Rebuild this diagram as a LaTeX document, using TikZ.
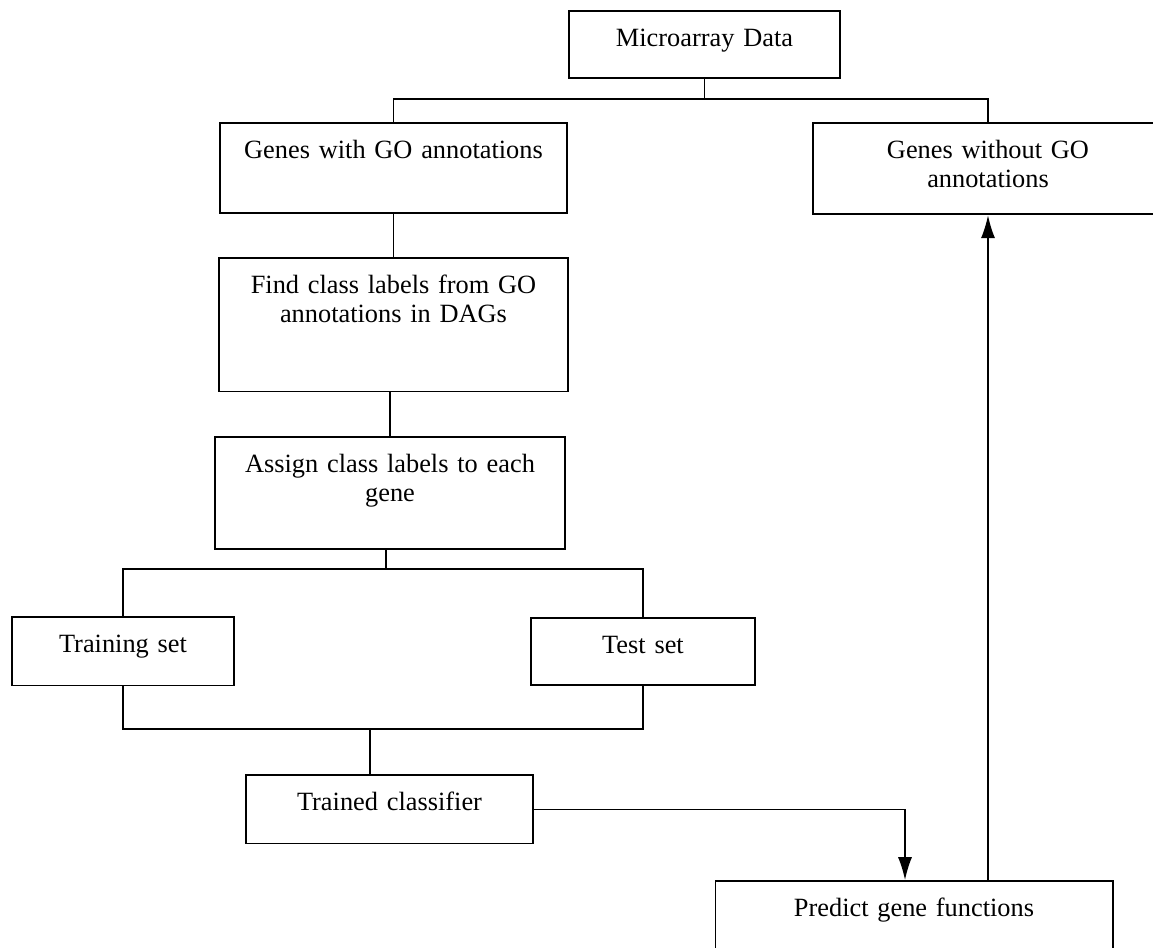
\documentclass[tikz,border=0pt]{standalone}
\usepackage{fontspec}
\setmainfont{Liberation Serif}
\usepackage{tikz}
\usetikzlibrary{arrows.meta,calc}

\tikzset{
  box/.style={draw, line width=1.1pt, anchor=north, align=center,
    inner xsep=4pt, inner ysep=9pt, text height=11pt,
    font=\fontsize{15}{17}\selectfont},
  link/.style={draw, line width=0.8pt},
  tip/.style={-{Latex[length=13pt,width=8pt]}}
}

\begin{document}
\begin{tikzpicture}[x=0.02cm, y=-0.02cm]
\fill[white] (0,0) rectangle (1153,947);
\useasboundingbox (0,0) rectangle (1153,947);

\node[box, text width=146pt, text depth=9pt] (micro) at (704.5,10) {Microarray Data};
\node[box, text width=190pt, text depth=22pt] (gwith) at (393.5,122) {Genes with GO annotations};
\node[box, text width=191pt, text depth=23pt] (gwithout) at (988,122) {Genes without GO\\annotations};
\node[box, text width=191pt, text depth=47pt] (find) at (393.5,257) {Find class labels from GO\\annotations in DAGs};
\node[box, text width=191pt, text depth=35pt] (assign) at (390,436) {Assign class labels to each\\gene};
\node[box, text width=118pt, text depth=10pt] (train) at (123,616) {Training set};
\node[box, text width=119pt, text depth=9pt] (test) at (643,617) {Test set};
\node[box, text width=155pt, text depth=10pt] (trained) at (389.5,774) {Trained classifier};
\node[box, text width=218pt, text depth=20pt] (predict) at (914,880) {Predict gene functions};

\coordinate (split1) at (704.5,99);
\coordinate (split2) at (386,569);
\coordinate (join) at (370,729);
\coordinate (drop) at (905,880);

\draw[link] (micro.south) -- (split1);
\draw[link] (gwith.north) |- (split1) -| (gwithout.north);
\draw[link] (gwith.south) -- (find.north);
\draw[link] (assign.north |- find.south) -- (assign.north);
\draw[link] (split2 |- assign.south) -- (split2);
\draw[link] (train.north) |- (split2) -| (test.north);
\draw[link] (train.south) |- (join) -| (test.south);
\draw[link] (join) -- (join |- trained.north);
\draw[link, tip] (trained.east) -| (drop);
\draw[link, tip] (gwithout.south |- predict.north) -- (gwithout.south);
\end{tikzpicture}
\end{document}
